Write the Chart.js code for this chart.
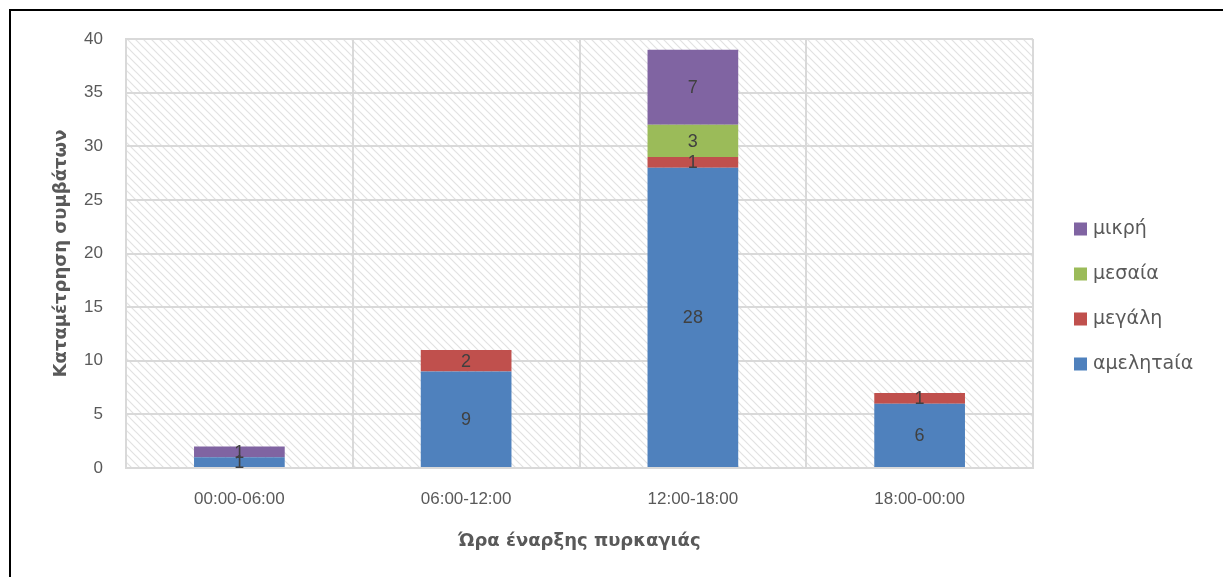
<!DOCTYPE html>
<html>
<head>
<meta charset="utf-8">
<script src="https://cdn.jsdelivr.net/npm/chart.js@4"></script>
<style>
  html, body { margin: 0; padding: 0; background: #fff; }
  #wrap { position: relative; width: 1223px; height: 577px; }
  #frame { position: absolute; left: 9px; top: 9px; right: 0; bottom: 0;
           border-left: 2px solid #000; border-top: 2px solid #000; pointer-events: none; }
</style>
</head>
<body>
<div id="wrap">
  <canvas id="fire-chart" width="1223" height="577"></canvas>
  <div id="frame"></div>
</div>
<script>
var hours = ["00:00-06:00", "06:00-12:00", "12:00-18:00", "18:00-00:00"];
var amelitaia = [1, 9, 28, 6];
var megali = [0, 2, 1, 1];
var mesaia = [0, 0, 3, 0];
var mikri = [1, 0, 7, 0];

// diagonal hatch behind the plot area
var hatch = document.createElement("canvas");
hatch.width = 8;
hatch.height = 8;
var hctx = hatch.getContext("2d");
hctx.strokeStyle = "#e2e2e2";
hctx.lineWidth = 1.2;
hctx.beginPath();
hctx.moveTo(-1, -1); hctx.lineTo(9, 9);
hctx.moveTo(-1, 7); hctx.lineTo(1, 9);
hctx.moveTo(7, -1); hctx.lineTo(9, 1);
hctx.stroke();

var hatchPlugin = {
  id: "hatch",
  beforeDraw: function (chart) {
    var a = chart.chartArea;
    var ctx = chart.ctx;
    ctx.save();
    ctx.fillStyle = ctx.createPattern(hatch, "repeat");
    ctx.fillRect(a.left, a.top, a.right - a.left, a.bottom - a.top);
    ctx.restore();
  }
};

// value labels in the middle of each segment
var labelPlugin = {
  id: "segLabels",
  afterDatasetsDraw: function (chart) {
    var ctx = chart.ctx;
    ctx.save();
    ctx.font = "18px 'Liberation Sans', Arial, sans-serif";
    ctx.fillStyle = "#404040";
    ctx.textAlign = "center";
    ctx.textBaseline = "middle";
    chart.data.datasets.forEach(function (ds, i) {
      var meta = chart.getDatasetMeta(i);
      meta.data.forEach(function (bar, j) {
        var v = ds.data[j];
        if (!v) return;
        ctx.fillText(String(v), bar.x, (bar.y + bar.base) / 2 + 1);
      });
    });
    ctx.restore();
  }
};

// legend on the right, top item = last series
var legendPlugin = {
  id: "sideLegend",
  afterDraw: function (chart) {
    var ctx = chart.ctx;
    var a = chart.chartArea;
    var x = a.right + 41;
    var y = a.top + 190;
    ctx.save();
    ctx.font = "19px 'DejaVu Sans', sans-serif";
    ctx.textBaseline = "middle";
    ctx.textAlign = "left";
    var sets = chart.data.datasets.slice().reverse();
    sets.forEach(function (ds, i) {
      var cy = y + i * 45;
      ctx.fillStyle = ds.backgroundColor;
      ctx.fillRect(x, cy - 6.5, 13, 13);
      ctx.fillStyle = "#595959";
      ctx.fillText(ds.label, x + 19, cy);
    });
    ctx.restore();
  }
};

var tickFont = { family: "'Liberation Sans', Arial, sans-serif", size: 17 };
var titleFont = { family: "'DejaVu Sans', sans-serif", size: 18, weight: "bold" };

new Chart(document.getElementById("fire-chart"), {
  type: "bar",
  data: {
    labels: hours,
    datasets: [
      { label: "αμελητaία", data: amelitaia, backgroundColor: "#4f81bd" },
      { label: "μεγάλη", data: megali, backgroundColor: "#c0504d" },
      { label: "μεσαία", data: mesaia, backgroundColor: "#9bbb59" },
      { label: "μικρή", data: mikri, backgroundColor: "#8064a2" }
    ]
  },
  options: {
    responsive: false,
    animation: false,
    datasets: { bar: { categoryPercentage: 1, barPercentage: 0.4 } },
    layout: { padding: { left: 51, top: 39, right: 190, bottom: 25 } },
    plugins: {
      tooltip: { enabled: false },
      legend: { display: false }
    },
    scales: {
      x: {
        stacked: true,
        grid: { color: "#d9d9d9", lineWidth: 2, drawTicks: false },
        border: { color: "#d9d9d9", width: 2 },
        ticks: { font: tickFont, color: "#595959", padding: 21 },
        title: {
          display: true,
          text: "Ώρα έναρξης πυρκαγιάς",
          font: titleFont,
          color: "#595959",
          padding: { top: 0, bottom: 0 }
        }
      },
      y: {
        stacked: true,
        min: 0,
        max: 40,
        afterFit: function (scale) { scale.width = 75; },
        ticks: { stepSize: 5, font: tickFont, color: "#595959", padding: 23 },
        grid: { color: "#d9d9d9", lineWidth: 2, drawTicks: false },
        border: { color: "#d9d9d9", width: 2 },
        title: {
          display: true,
          text: "Καταμέτρηση συμβάτων",
          font: titleFont,
          color: "#595959",
          padding: { top: 0, bottom: 0 }
        }
      }
    }
  },
  plugins: [hatchPlugin, labelPlugin, legendPlugin]
});
</script>
</body>
</html>
